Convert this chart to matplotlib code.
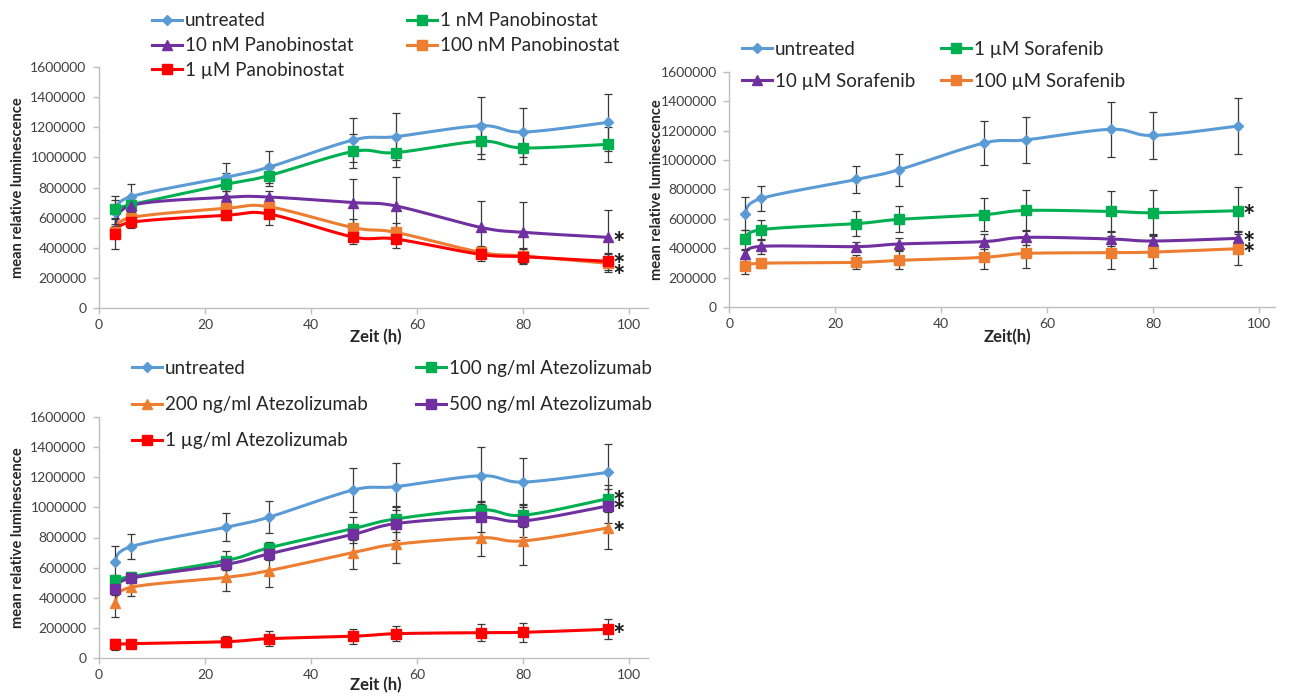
import numpy as np
import matplotlib
matplotlib.use('Agg')
import matplotlib.pyplot as plt
from matplotlib.lines import Line2D
from matplotlib.ticker import FuncFormatter
import matplotlib.transforms as mtransforms

plt.rcParams['font.family'] = ['Lato', 'DejaVu Sans']

# Zeitpunkte (h)
zeit = [3, 6, 24, 32, 48, 56, 72, 80, 96]

# Kontrolle (in allen drei Diagrammen gleich)
untreated = [635000, 739000, 868000, 934000, 1115000, 1137000, 1209000, 1167000, 1231000]
untreated_err = [112000, 82000, 91000, 107000, 148000, 154000, 188000, 162000, 188000]

# Panobinostat
pano_1nM = [655000, 686000, 821000, 878000, 1039000, 1031000, 1106000, 1062000, 1086000]
pano_1nM_err = [60000, 50000, 77000, 70000, 112000, 98000, 117000, 108000, 117000]
pano_10nM = [519000, 680000, 735000, 737000, 700000, 678000, 536000, 503000, 470000]
pano_10nM_err = [40000, 40000, 40000, 40000, 156000, 194000, 174000, 199000, 181000]
pano_100nM = [505000, 600000, 662000, 673000, 534000, 503000, 371000, 347000, 298000]
pano_100nM_err = [40000, 40000, 40000, 50000, 60000, 60000, 40000, 50000, 60000]
pano_1uM = [492000, 569000, 616000, 625000, 472000, 459000, 357000, 342000, 311000]
pano_1uM_err = [100000, 40000, 30000, 73000, 48000, 57000, 45000, 50000, 55000]
stars_pano = [468000, 324000, 249000]

# Sorafenib
sora_1uM = [461000, 527000, 568000, 597000, 629000, 658000, 651000, 642000, 656000]
sora_1uM_err = [65000, 68000, 84000, 88000, 111000, 140000, 136000, 152000, 158000]
sora_10uM = [362000, 414000, 412000, 430000, 446000, 475000, 464000, 450000, 468000]
sora_10uM_err = [30000, 52000, 30000, 40000, 52000, 50000, 50000, 45000, 48000]
sora_100uM = [278000, 299000, 305000, 319000, 339000, 366000, 371000, 375000, 398000]
sora_100uM_err = [52000, 30000, 47000, 61000, 81000, 97000, 113000, 110000, 113000]
stars_sora = [656000, 475000, 400000]

# Atezolizumab
atezo_100 = [519000, 541000, 647000, 731000, 859000, 923000, 984000, 947000, 1057000]
atezo_100_err = [35000, 30000, 64000, 40000, 75000, 86000, 60000, 75000, 90000]
atezo_200 = [369000, 470000, 536000, 580000, 700000, 755000, 799000, 777000, 863000]
atezo_200_err = [97000, 57000, 90000, 108000, 110000, 126000, 121000, 161000, 139000]
atezo_500 = [457000, 530000, 622000, 691000, 821000, 892000, 934000, 909000, 1009000]
atezo_500_err = [40000, 30000, 40000, 40000, 60000, 108000, 100000, 106000, 110000]
atezo_1ug = [93000, 97000, 110000, 130000, 146000, 163000, 170000, 172000, 192000]
atezo_1ug_err = [37000, 25000, 38000, 51000, 48000, 51000, 55000, 64000, 66000]
stars_atezo = [1075000, 1015000, 867000, 194000]

BLUE, GREEN, PURPLE, ORANGE, RED = '#5B9BD5', '#00B050', '#7030A0', '#ED7D31', '#FF0000'
MS = {'D': 5, 's': 6.5, '^': 7}
LEG_FS = 13.5

W, H = 1289, 696
fig = plt.figure(figsize=(W / 100, H / 100), dpi=100)


def smooth(x, y, n=24):
    # geglaettete Linie wie in Excel (Bezier nach Catmull-Rom)
    p = np.column_stack([x, y]).astype(float)
    out = []
    for i in range(len(p) - 1):
        p0, p1, p2, p3 = p[max(i - 1, 0)], p[i], p[i + 1], p[min(i + 2, len(p) - 1)]
        c1 = p1 + (p2 - p0) / 6
        c2 = p2 - (p3 - p1) / 6
        s = np.linspace(0, 1, n)[:, None]
        seg = (1 - s) ** 3 * p1 + 3 * (1 - s) ** 2 * s * c1 + 3 * (1 - s) * s ** 2 * c2 + s ** 3 * p2
        out.append(seg if i == 0 else seg[1:])
    return np.vstack(out)


def make_axes(l, t, r, b, xmax, xlabel, xl_pos, yl_pos):
    ax = fig.add_axes([l / W, 1 - b / H, (r - l) / W, (b - t) / H])
    ax.set_xlim(0, xmax)
    ax.set_ylim(0, 1600000)
    ax.set_xticks(range(0, 101, 20))
    ax.set_yticks(range(0, 1600001, 200000))
    ax.yaxis.set_major_formatter(FuncFormatter(lambda v, p: f'{int(round(v))}'))
    for s in ['top', 'right']:
        ax.spines[s].set_visible(False)
    for s in ['left', 'bottom']:
        ax.spines[s].set_color('#BFBFBF')
        ax.spines[s].set_linewidth(1.0)
    ax.tick_params(axis='both', colors='#BFBFBF', labelcolor='#404040', labelsize=10,
                   length=4, width=1.0, direction='out')
    ax.tick_params(axis='y', pad=5)
    ax.tick_params(axis='x', pad=4)
    ax.set_xlabel(xlabel, fontsize=12, fontweight='bold', color='#262626')
    ax.set_ylabel('mean relative luminescence', fontsize=10.5, fontweight='bold', color='#262626')
    ax.xaxis.set_label_coords(*xl_pos)
    ax.yaxis.set_label_coords(*yl_pos)
    return ax


def draw(ax, y, err, color, marker):
    ax.errorbar(zeit, y, yerr=err, fmt='none', ecolor='#3A3A3A', elinewidth=0.9,
                capsize=3, capthick=0.9, zorder=3)
    c = smooth(zeit, y)
    ax.plot(c[:, 0], c[:, 1], color=color, lw=2.2, zorder=2, solid_capstyle='round')
    ax.plot(zeit, y, ls='none', marker=marker, ms=MS[marker], color=color,
            markeredgecolor=color, zorder=4)


def stars(ax, ys):
    fs = 21
    tr = mtransforms.offset_copy(ax.transData, fig=fig, y=-fs * 0.5, units='points')
    for v in ys:
        ax.text(96.9, v, '*', fontsize=fs, fontweight='bold', ha='left', va='baseline',
                color='#1A1A1A', transform=tr, zorder=5)


def legend_col(entries, x, y_first, spacing):
    handles = [Line2D([], [], color=c, lw=2.2, marker=m, ms=MS[m]) for _, c, m in entries]
    labels = [lab for lab, _, _ in entries]
    fs_px = LEG_FS * 100 / 72
    row_h = fs_px * 0.94
    leg = fig.legend(handles, labels, loc='upper left',
                     bbox_to_anchor=(x / W, 1 - (y_first - row_h / 2 + 1.5) / H),
                     bbox_transform=fig.transFigure, frameon=False, borderpad=0,
                     borderaxespad=0, fontsize=LEG_FS, handlelength=1.6, handletextpad=0.15,
                     labelspacing=(spacing - row_h) / fs_px, labelcolor='#262626')
    return leg


# Panel 1: Panobinostat
ax1 = make_axes(99, 66.7, 648, 308.3, 103.6, 'Zeit (h)', (0.505, -0.085), (-0.135, 0.5))
draw(ax1, untreated, untreated_err, BLUE, 'D')
draw(ax1, pano_1nM, pano_1nM_err, GREEN, 's')
draw(ax1, pano_10nM, pano_10nM_err, PURPLE, '^')
draw(ax1, pano_100nM, pano_100nM_err, ORANGE, 's')
draw(ax1, pano_1uM, pano_1uM_err, RED, 's')
stars(ax1, stars_pano)
legend_col([('untreated', BLUE, 'D'), ('10 nM Panobinostat', PURPLE, '^'),
            ('1 µM Panobinostat', RED, 's')], 152, 19.5, 25.5)
legend_col([('1 nM Panobinostat', GREEN, 's'), ('100 nM Panobinostat', ORANGE, 's')],
           407, 19.5, 25.5)

# Panel 2: Sorafenib
ax2 = make_axes(729.3, 71.7, 1275, 307.3, 103.0, 'Zeit(h)', (0.509, -0.092), (-0.12, 0.5))
draw(ax2, untreated, untreated_err, BLUE, 'D')
draw(ax2, sora_1uM, sora_1uM_err, GREEN, 's')
draw(ax2, sora_10uM, sora_10uM_err, PURPLE, '^')
draw(ax2, sora_100uM, sora_100uM_err, ORANGE, 's')
stars(ax2, stars_sora)
legend_col([('untreated', BLUE, 'D'), ('10 µM Sorafenib', PURPLE, '^')], 742, 48.3, 32.4)
legend_col([('1 µM Sorafenib', GREEN, 's'), ('100 µM Sorafenib', ORANGE, 's')], 941, 48.3, 32.4)

# Panel 3: Atezolizumab
ax3 = make_axes(99, 416.7, 648, 658.3, 103.6, 'Zeit (h)', (0.505, -0.078), (-0.135, 0.5))
draw(ax3, untreated, untreated_err, BLUE, 'D')
draw(ax3, atezo_100, atezo_100_err, GREEN, 's')
draw(ax3, atezo_200, atezo_200_err, ORANGE, '^')
draw(ax3, atezo_500, atezo_500_err, PURPLE, 's')
draw(ax3, atezo_1ug, atezo_1ug_err, RED, 's')
stars(ax3, stars_atezo)
legend_col([('untreated', BLUE, 'D'), ('200 ng/ml Atezolizumab', ORANGE, '^'),
            ('1 µg/ml Atezolizumab', RED, 's')], 132, 367.3, 36.7)
legend_col([('100 ng/ml Atezolizumab', GREEN, 's'), ('500 ng/ml Atezolizumab', PURPLE, 's')],
           416, 367.3, 36.7)

fig.savefig('out.png', dpi=100)
